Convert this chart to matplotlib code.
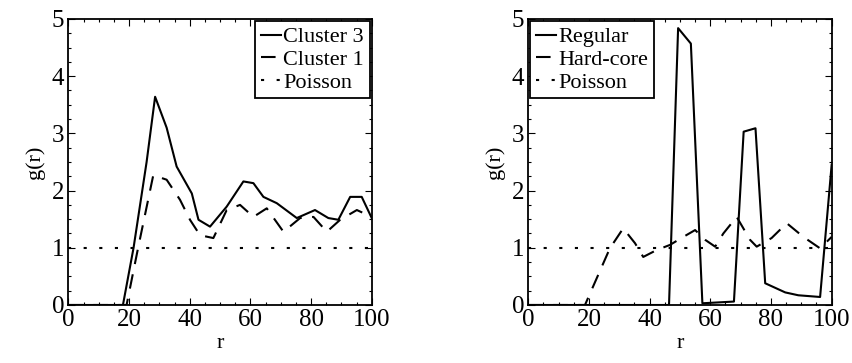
import matplotlib
matplotlib.use('Agg')
import matplotlib.pyplot as plt
from matplotlib.ticker import MultipleLocator

plt.rcParams['font.family'] = 'Liberation Serif'

# left panel: clustered patterns
r_c3 = [0, 18, 21.5, 25.8, 28.6, 32.4, 35.7, 40.7, 42.9, 46.7, 52.2, 57.7, 61, 64.3,
        68.7, 75.3, 81.3, 85.7, 89, 92.9, 96.7, 100]
g_c3 = [0, 0, 1.0, 2.5, 3.64, 3.1, 2.42, 1.95, 1.49, 1.37, 1.72, 2.16, 2.13, 1.89,
        1.78, 1.52, 1.66, 1.52, 1.49, 1.89, 1.89, 1.52]
r_c1 = [0, 19.2, 23, 28, 32.4, 36.8, 40.1, 43.4, 47.8, 52.2, 56.6, 61, 65.4, 70.9,
        76.4, 80.8, 85.2, 89.6, 95.1, 100]
g_c1 = [0, 0, 1.0, 2.27, 2.19, 1.84, 1.49, 1.22, 1.17, 1.66, 1.75, 1.54, 1.69, 1.28,
        1.52, 1.54, 1.28, 1.49, 1.66, 1.54]

# right panel: regular patterns
r_reg = [0, 46.4, 49.4, 53.6, 57.4, 67.8, 71, 74.9, 78.1, 84.7, 89, 96.2, 100]
g_reg = [0, 0, 4.84, 4.57, 0.03, 0.06, 3.03, 3.09, 0.38, 0.22, 0.17, 0.14, 2.45]
r_hc = [0, 18.7, 26.9, 31.3, 35.2, 37.9, 42.3, 46.7, 51.1, 55, 58.3, 61.6, 64.3,
        68.7, 73.1, 75.3, 80.2, 85.2, 90.7, 96.2, 100]
g_hc = [0, 0, 0.99, 1.34, 1.08, 0.84, 0.96, 1.05, 1.19, 1.31, 1.14, 1.02, 1.25,
        1.54, 1.14, 1.02, 1.17, 1.43, 1.19, 0.99, 1.19]

r_poi = [0, 100]
g_poi = [1, 1]

dash = (0, (7, 5))
dots = (0, (1.5, 6))

fig = plt.figure(figsize=(8.52, 3.63), dpi=100)
ax1 = fig.add_axes([0.0802, 0.1598, 0.3561, 0.7879])
ax2 = fig.add_axes([0.6200, 0.1598, 0.3561, 0.7879])

ax1.plot(r_c3, g_c3, 'k-', lw=1.5, label='Cluster 3')
ax1.plot(r_c1, g_c1, color='k', ls=dash, lw=1.5, label='Cluster 1')
ax1.plot(r_poi, g_poi, color='k', ls=dots, lw=1.5, label='Poisson')

ax2.plot(r_reg, g_reg, 'k-', lw=1.5, label='Regular')
ax2.plot(r_hc, g_hc, color='k', ls=dash, lw=1.5, label='Hard-core')
ax2.plot(r_poi, g_poi, color='k', ls=dots, lw=1.5, label='Poisson')

for ax, loc in ((ax1, 'upper right'), (ax2, 'upper left')):
    ax.set_xlim(0, 100)
    ax.set_ylim(0, 5)
    ax.xaxis.set_major_locator(MultipleLocator(20))
    ax.xaxis.set_minor_locator(MultipleLocator(5))
    ax.yaxis.set_major_locator(MultipleLocator(1))
    ax.yaxis.set_minor_locator(MultipleLocator(0.25))
    ax.tick_params(which='both', direction='in', top=True, right=True,
                   labelsize=18, width=0.8, pad=3)
    ax.tick_params(which='major', length=5)
    ax.tick_params(which='minor', length=2.5)
    for s in ax.spines.values():
        s.set_linewidth(1.3)
    ax.set_xlabel('r', fontsize=16, labelpad=2)
    ax.set_ylabel('g(r)', fontsize=16, labelpad=5)
    leg = ax.legend(loc=loc, fontsize=16, handlelength=0.9, handletextpad=0.1,
                    borderaxespad=0.1, borderpad=0.25, labelspacing=0.1,
                    fancybox=False, framealpha=1)
    leg.get_frame().set_edgecolor('k')
    leg.get_frame().set_linewidth(1.3)

fig.savefig('out.png', dpi=100)
